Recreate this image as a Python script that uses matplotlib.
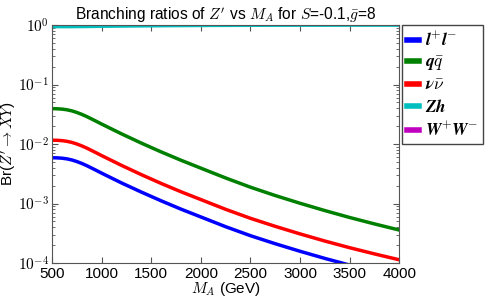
import numpy as np
import matplotlib
matplotlib.use("Agg")
import matplotlib.pyplot as plt
from matplotlib.ticker import FuncFormatter

plt.rcParams['font.family'] = ['Liberation Sans', 'DejaVu Sans']
plt.rcParams['mathtext.fontset'] = 'cm'

# masses (GeV)
mass = [500, 550, 600, 650, 700, 750, 800, 850, 900, 950, 1000, 1200, 1400, 1600, 1800, 2000,
        2250, 2500, 2750, 3000, 3250, 3500, 3750, 4000]
# log10 of branching ratios
log_qq = [-1.405, -1.407, -1.4125, -1.424, -1.4425, -1.469, -1.501, -1.538, -1.5795, -1.621, -1.664,
          -1.828, -1.984, -2.132, -2.272, -2.405,
          -2.570, -2.725, -2.865, -2.995, -3.118, -3.234, -3.342, -3.445]
log_nn = [-1.935, -1.937, -1.9425, -1.954, -1.9725, -1.999, -2.031, -2.068, -2.1095, -2.151, -2.194,
          -2.358, -2.514, -2.662, -2.802, -2.933,
          -3.097, -3.248, -3.383, -3.510, -3.630, -3.742, -3.846, -3.945]
log_ll = [-2.230, -2.232, -2.2375, -2.249, -2.2675, -2.294, -2.326, -2.363, -2.4045, -2.446, -2.489,
          -2.653, -2.807, -2.954, -3.094, -3.225,
          -3.389, -3.540, -3.675, -3.802, -3.922, -4.034, -4.138, -4.237]
br_zh = [0.942, 0.942, 0.942, 0.942, 0.943, 0.944, 0.945, 0.947, 0.950, 0.952, 0.955,
         0.963, 0.970, 0.976, 0.981, 0.985,
         0.989, 0.992, 0.994, 0.995, 0.996, 0.997, 0.998, 0.998]
br_ww = [1e-6] * 24

labels = [r'$\boldsymbol{l}^{\boldsymbol{+}}\boldsymbol{l}^{\boldsymbol{-}}$',
          r'$\boldsymbol{q\bar{q}}$',
          r'$\boldsymbol{\nu}\boldsymbol{\bar{\nu}}$',
          r'$\boldsymbol{Zh}$',
          r'$\boldsymbol{W}^{\boldsymbol{+}}\boldsymbol{W}^{\boldsymbol{-}}$']
colors = ['b', 'g', 'r', 'c', 'm']

fig = plt.figure(figsize=(4.91, 3.02), dpi=100)
ax = fig.add_axes([0.106, 0.129, 0.707, 0.788])

series = [10 ** np.array(log_ll), 10 ** np.array(log_qq), 10 ** np.array(log_nn),
          np.array(br_zh), np.array(br_ww)]
for y, c, lab in zip(series, colors, labels):
    ax.plot(mass, y, color=c, lw=2.5, label=lab)

ax.set_yscale('log')
ax.set_xlim(500, 4000)
ax.set_ylim(1e-4, 1)
ax.set_xticks(range(500, 4001, 500))
ax.yaxis.set_major_formatter(FuncFormatter(lambda v, p: r'$10^{%d}$' % round(np.log10(v))))
ax.tick_params(which='both', direction='in', top=True, right=True, color='#555555')
ax.tick_params(which='major', length=4)
ax.tick_params(which='minor', length=2)
ax.tick_params(axis='x', labelsize=11, pad=3)
ax.tick_params(axis='y', labelsize=11, pad=2)
for s in ax.spines.values():
    s.set_color('#555555')
ax.set_xlabel(r'$M_A$ (GeV)', fontsize=11, labelpad=-1)
ax.set_ylabel(r"Br($Z' \to XY$)", fontsize=11, labelpad=0)
ax.set_title(r"Branching ratios of $Z'$ vs $M_A$ for $S$=-0.1,$\bar{g}$=8", fontsize=11.2, pad=3)

leg = ax.legend(loc='upper left', bbox_to_anchor=(1.008, 1.0), fontsize=12.5, handlelength=0.7,
                handletextpad=0.3, borderaxespad=0.0, borderpad=0.3, fancybox=False,
                framealpha=1, labelspacing=0.3)
leg.get_frame().set_edgecolor('#444444')
for h in leg.get_lines():
    h.set_linewidth(4)

fig.savefig('out.png', dpi=100)
